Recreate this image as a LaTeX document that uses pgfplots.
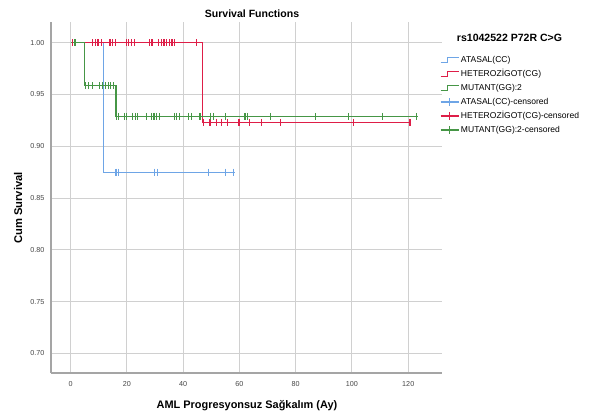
\documentclass[border=0pt]{standalone}
\usepackage{fontspec}
\setmainfont{Liberation Sans}
\usepackage{pgfplots}
\pgfplotsset{compat=1.18}
\definecolor{cblue}{RGB}{110,165,230}
\definecolor{cred}{RGB}{222,30,72}
\definecolor{cgreen}{RGB}{70,150,70}
\definecolor{gridc}{RGB}{208,208,208}
\definecolor{axc}{RGB}{165,165,165}
\definecolor{tickc}{RGB}{70,70,70}
\begin{document}
\begin{tikzpicture}[x=0.75pt,y=0.75pt]
\path[use as bounding box] (0,0) rectangle (591,416);
\begin{axis}[
  at={(38.25pt,32.25pt)}, anchor=south west,
  scale only axis, width=293.25pt, height=263.25pt,
  xmin=-7, xmax=132, ymin=0.681, ymax=1.02,
  xtick={0,20,...,120},
  ytick={0.70,0.75,0.80,0.85,0.90,0.95,1.00},
  yticklabel style={/pgf/number format/fixed, /pgf/number format/fixed zerofill, /pgf/number format/precision=2, xshift=-1.5pt},
  /pgf/number format/assume math mode=true,
  ticklabel style={font=\fontsize{5.4pt}{6pt}\selectfont, text=tickc},
  xticklabel style={yshift=-3pt},
  major tick length=0pt,
  axis x line=bottom, axis y line=left,
  axis line style={-, draw=axc, line width=1.1pt},
  grid=major, major grid style={draw=gridc, line width=0.75pt},
  legend style={at={(axis description cs:0.995,0.906)}, anchor=north west,
    draw=none, fill=none, inner sep=0pt, outer sep=0pt,
    font=\fontsize{6.4pt}{7pt}\selectfont, row sep=3pt, column sep=0.8pt,
    nodes={inner sep=0.5pt, text height=5pt, text depth=1.5pt}},
  legend cell align=left,
  clip=false,
]
% step lines
\addplot[const plot, cblue, line width=0.9pt,
  legend image code/.code={\draw[cblue, line width=0.9pt] (0pt,-2pt) -- (5pt,-2pt) -- (5pt,2pt) -- (13.5pt,2pt);}]
  coordinates {(0,1.000) (11.7,0.875) (58.4,0.875)};
\addlegendentry{ATASAL(CC)}
\addplot[const plot, cred, line width=0.9pt,
  legend image code/.code={\draw[cred, line width=0.9pt] (0pt,-2pt) -- (5pt,-2pt) -- (5pt,2pt) -- (13.5pt,2pt);}]
  coordinates {(0,1.000) (46.8,0.923) (120.8,0.923)};
\addlegendentry{HETEROZİGOT(CG)}
\addplot[const plot, cgreen, line width=0.9pt,
  legend image code/.code={\draw[cgreen, line width=0.9pt] (0pt,-2pt) -- (5pt,-2pt) -- (5pt,2pt) -- (13.5pt,2pt);}]
  coordinates {(0,1.000) (4.85,0.9583) (16.1,0.9288) (123.4,0.9288)};
\addlegendentry{MUTANT(GG):2}
% censored marks
\addplot[only marks, mark=|, mark size=2.6pt, cblue, mark options={line width=0.9pt},
  legend image code/.code={\draw[cblue, line width=0.9pt] (0pt,0pt) -- (13.5pt,0pt); \draw[cblue, line width=0.9pt] (6.75pt,-3pt) -- (6.75pt,3pt);}]
  coordinates {(16.1,0.875) (17.1,0.875) (29.9,0.875) (30.8,0.875) (48.9,0.875) (54.9,0.875) (57.8,0.875)};
\addlegendentry{ATASAL(CC)-censored}
\addplot[only marks, mark=|, mark size=2.6pt, cred, mark options={line width=0.9pt},
  legend image code/.code={\draw[cred, line width=0.9pt] (0pt,0pt) -- (13.5pt,0pt); \draw[cred, line width=0.9pt] (6.75pt,-3pt) -- (6.75pt,3pt);}]
  coordinates {(0.6,1) (1.5,1) (7.8,1) (8.8,1) (9.7,1) (10.9,1) (14.0,1) (14.9,1) (15.9,1)
   (19.9,1) (20.6,1) (21.6,1) (22.7,1) (27.9,1) (28.9,1) (31.3,1) (32.2,1) (33.2,1)
   (34.1,1) (35.1,1) (36.0,1) (37.0,1) (44.8,1)
   (47.1,0.923) (49.5,0.923) (51.7,0.923) (53.7,0.923) (55.7,0.923) (59.8,0.923)
   (63.7,0.923) (67.7,0.923) (74.7,0.923) (100.5,0.923) (120.6,0.923)};
\addlegendentry{HETEROZİGOT(CG)-censored}
\addplot[only marks, mark=|, mark size=2.6pt, cgreen, mark options={line width=0.9pt},
  legend image code/.code={\draw[cgreen, line width=0.9pt] (0pt,0pt) -- (13.5pt,0pt); \draw[cgreen, line width=0.9pt] (6.75pt,-3pt) -- (6.75pt,3pt);}]
  coordinates {(1.5,1)
   (5.2,0.9583) (6.4,0.9583) (7.8,0.9583) (10.2,0.9583) (11.4,0.9583) (12.3,0.9583) (13.3,0.9583) (14.2,0.9583) (15.2,0.9583)
   (16.4,0.9288) (17.1,0.9288) (19.0,0.9288) (19.7,0.9288) (22.0,0.9288) (22.9,0.9288) (23.7,0.9288)
   (27.0,0.9288) (28.7,0.9288) (29.6,0.9288) (30.6,0.9288) (31.5,0.9288) (37.0,0.9288) (37.7,0.9288)
   (38.6,0.9288) (41.9,0.9288) (42.9,0.9288) (46.0,0.9288) (49.8,0.9288) (50.7,0.9288) (54.9,0.9288)
   (62.0,0.9288) (62.8,0.9288) (70.9,0.9288) (86.9,0.9288) (98.7,0.9288) (110.8,0.9288) (122.8,0.9288)};
\addlegendentry{MUTANT(GG):2-censored}
\end{axis}
\node[font=\bfseries\fontsize{7.9pt}{9pt}\selectfont] at (252,402) {Survival Functions};
\node[font=\bfseries\fontsize{7.9pt}{9pt}\selectfont] at (509.5,378) {rs1042522 P72R C>G};
\node[font=\bfseries\fontsize{8.2pt}{9pt}\selectfont] at (247,10) {AML Progresyonsuz Sağkalım (Ay)};
\node[font=\bfseries\fontsize{8.4pt}{9pt}\selectfont, rotate=90] at (18,208) {Cum Survival};
\end{tikzpicture}
\end{document}
